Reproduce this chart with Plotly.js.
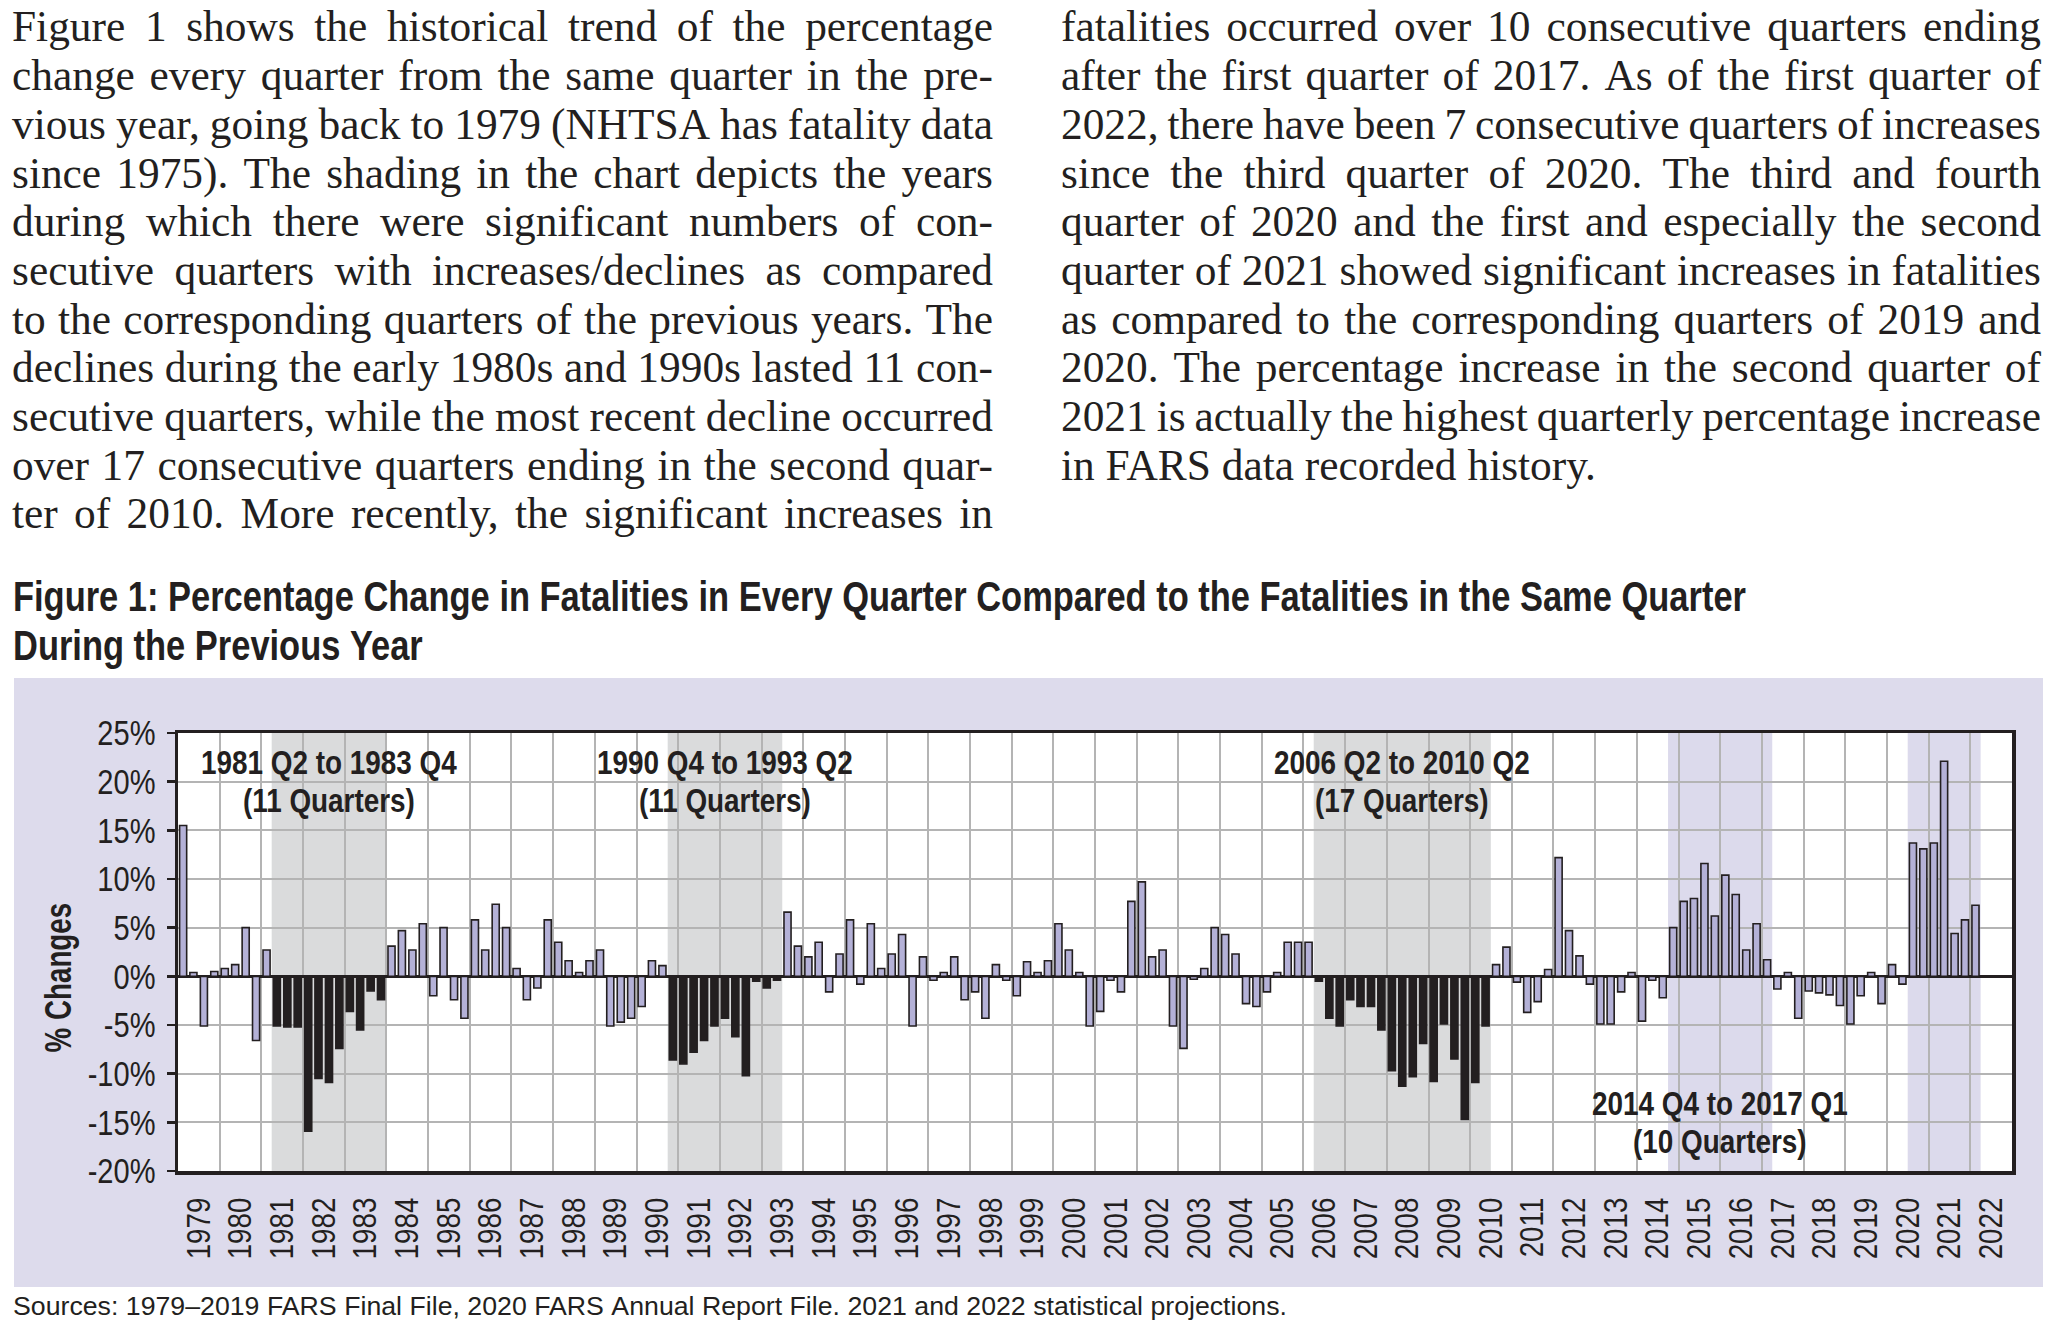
<!DOCTYPE html>
<html><head><meta charset="utf-8">
<script src="https://cdn.plot.ly/plotly-3.0.1.min.js"></script>
<style>
html,body{margin:0;padding:0;background:#fff;width:2048px;height:1327px;overflow:hidden;}
#txt{position:absolute;left:0;top:0;}
#chart{position:absolute;left:14px;top:678px;width:2029px;height:609px;}
</style></head><body>
<svg id="txt" width="2048" height="1327" xmlns="http://www.w3.org/2000/svg"></svg>
<div id="chart"></div>
<script>
// ---------------- DATA ----------------
const years = [1979,1980,1981,1982,1983,1984,1985,1986,1987,1988,1989,1990,1991,1992,1993,1994,1995,1996,1997,1998,1999,2000,2001,2002,2003,2004,2005,2006,2007,2008,2009,2010,2011,2012,2013,2014,2015,2016,2017,2018,2019,2020,2021,2022];
const quarterLabels = ['Q1','Q2','Q3','Q4'];
// % change vs same quarter of previous year, 1979 Q1 .. 2022 Q1
const pctChange = [
  15.5, 0.4, -5.1, 0.5,     // 1979
  0.8, 1.2, 5.0, -6.6,      // 1980
  2.7, -5.1, -5.2, -5.2,    // 1981
  -15.9, -10.5, -10.9, -7.4,// 1982
  -3.6, -5.5, -1.5, -2.4,   // 1983
  3.1, 4.7, 2.7, 5.4,       // 1984
  -2.0, 5.0, -2.4, -4.3,    // 1985
  5.8, 2.7, 7.4, 5.0,       // 1986
  0.8, -2.4, -1.2, 5.8,     // 1987
  3.5, 1.6, 0.4, 1.6,       // 1988
  2.7, -5.1, -4.7, -4.3,    // 1989
  -3.1, 1.6, 1.1, -8.6,     // 1990
  -9.0, -7.8, -6.6, -5.1,   // 1991
  -4.3, -6.2, -10.2, -0.5,  // 1992
  -1.2, -0.4, 6.6, 3.1,     // 1993
  2.0, 3.5, -1.6, 2.3,      // 1994
  5.8, -0.8, 5.4, 0.8,      // 1995
  2.3, 4.3, -5.1, 2.0,      // 1996
  -0.4, 0.4, 2.0, -2.4,     // 1997
  -1.6, -4.3, 1.2, -0.4,    // 1998
  -2.0, 1.5, 0.4, 1.6,      // 1999
  5.4, 2.7, 0.4, -5.1,      // 2000
  -3.6, -0.4, -1.6, 7.7,    // 2001
  9.7, 2.0, 2.7, -5.1,      // 2002
  -7.4, -0.3, 0.8, 5.0,     // 2003
  4.3, 2.3, -2.8, -3.1,     // 2004
  -1.6, 0.4, 3.5, 3.5,      // 2005
  3.5, -0.5, -4.3, -5.1,    // 2006
  -2.4, -3.1, -3.1, -5.5,   // 2007
  -9.7, -11.3, -10.3, -6.9, // 2008
  -10.8, -4.9, -8.5, -14.7, // 2009
  -10.9, -5.1, 1.2, 3.0,    // 2010
  -0.6, -3.7, -2.6, 0.7,    // 2011
  12.2, 4.7, 2.1, -0.8,     // 2012
  -4.9, -4.9, -1.6, 0.4,    // 2013
  -4.6, -0.4, -2.2, 5.0,    // 2014
  7.7, 8.0, 11.6, 6.2,      // 2015
  10.4, 8.4, 2.7, 5.4,      // 2016
  1.7, -1.3, 0.4, -4.3,     // 2017
  -1.5, -1.7, -1.9, -3.0,   // 2018
  -4.9, -2.0, 0.4, -2.8,    // 2019
  1.2, -0.8, 13.7, 13.1,    // 2020
  13.7, 22.1, 4.4, 5.8,     // 2021
  7.3                       // 2022
];
// periods of consecutive declines (first quarter start, last quarter end)
const declineStart = ['1981-04-01','1990-10-01','2006-04-01'];
const declineEnd   = ['1984-01-01','1993-07-01','2010-07-01'];
const declineTitle = ['1981 Q2 to 1983 Q4','1990 Q4 to 1993 Q2','2006 Q2 to 2010 Q2'];
const declineCount = ['(11 Quarters)','(11 Quarters)','(17 Quarters)'];
// periods of consecutive increases
const increaseStart = ['2014-10-01','2020-07-01'];
const increaseEnd   = ['2017-04-01','2022-04-01'];
const increaseTitle = ['2014 Q4 to 2017 Q1',''];
const increaseCount = ['(10 Quarters)',''];
const yTickVals = [-20,-15,-10,-5,0,5,10,15,20,25];
const yTickText = ['-20%','-15%','-10%','-5%','0%','5%','10%','15%','20%','25%'];

const leftText = [
 'Figure 1 shows the historical trend of the percentage',
 'change every quarter from the same quarter in the pre-',
 'vious year, going back to 1979 (NHTSA has fatality data',
 'since 1975). The shading in the chart depicts the years',
 'during which there were significant numbers of con-',
 'secutive quarters with increases/declines as compared',
 'to the corresponding quarters of the previous years. The',
 'declines during the early 1980s and 1990s lasted 11 con-',
 'secutive quarters, while the most recent decline occurred',
 'over 17 consecutive quarters ending in the second quar-',
 'ter of 2010. More recently, the significant increases in'
];
const rightText = [
 'fatalities occurred over 10 consecutive quarters ending',
 'after the first quarter of 2017. As of the first quarter of',
 '2022, there have been 7 consecutive quarters of increases',
 'since the third quarter of 2020. The third and fourth',
 'quarter of 2020 and the first and especially the second',
 'quarter of 2021 showed significant increases in fatalities',
 'as compared to the corresponding quarters of 2019 and',
 '2020. The percentage increase in the second quarter of',
 '2021 is actually the highest quarterly percentage increase',
 'in FARS data recorded history.'
];
const figTitle = ['Figure 1: Percentage Change in Fatalities in Every Quarter Compared to the Fatalities in the Same Quarter','During the Previous Year'];
const sourceText = 'Sources: 1979\u20132019 FARS Final File, 2020 FARS Annual Report File. 2021 and 2022 statistical projections.';

// ---------------- TEXT (SVG) ----------------
const INK = '#231f20';
const NS = 'http://www.w3.org/2000/svg';
const svg = document.getElementById('txt');
const cv = document.createElement('canvas').getContext('2d');
function mw(t, f){ cv.font = f; return cv.measureText(t).width; }
function mk(tag, attrs){ const e=document.createElementNS(NS,tag); for(const k in attrs) e.setAttribute(k,attrs[k]); return e; }
function drawLines(lines, opt){
  const fam = opt.family, size = opt.size, weight = opt.weight||'normal';
  const fcss = weight+' '+size+'px '+fam;
  const s = opt.scale;
  const g = mk('g',{transform:'translate('+opt.x+' 0) scale('+s+' 1)','font-family':fam,'font-size':size,'font-weight':weight,fill:INK});
  svg.appendChild(g);
  const inner = opt.width / s;
  const sp = mw(' ', fcss);
  lines.forEach((line,i)=>{
    const words = line.split(' ');
    const ws = words.map(w=>mw(w,fcss));
    const sum = ws.reduce((a,b)=>a+b,0);
    const justify = opt.justify && !(opt.lastLeft && i===lines.length-1) && words.length>1;
    const gap = justify ? (inner-sum)/(words.length-1) : sp;
    let x = 0;
    const y = opt.baseline + i*opt.pitch;
    words.forEach((w,j)=>{ const t=mk('text',{x:x.toFixed(2),y:y}); t.textContent=w; g.appendChild(t); x += ws[j]+gap; });
  });
}
const SERIF = "'Liberation Serif', 'Times New Roman', serif";
const SANS = "'Liberation Sans', Arial, Helvetica, sans-serif";
const pSize = 45;
const pScale = 535 / mw('in FARS data recorded history.', 'normal '+pSize+'px '+SERIF);
drawLines(leftText,{family:SERIF,size:pSize,scale:pScale,x:12,width:981,baseline:41.5,pitch:48.7,justify:true,lastLeft:false});
drawLines(rightText,{family:SERIF,size:pSize,scale:pScale,x:1061,width:980,baseline:41.5,pitch:48.7,justify:true,lastLeft:true});
const tSize = 42;
const tScale = 1733 / mw(figTitle[0], 'bold '+tSize+'px '+SANS);
drawLines(figTitle,{family:SANS,size:tSize,weight:'bold',scale:tScale,x:13,width:1733,baseline:611.5,pitch:48.5,justify:false});
const sSize = 25;
const sScale = 1274 / mw(sourceText, 'normal '+sSize+'px '+SANS);
drawLines([sourceText],{family:SANS,size:sSize,scale:sScale,x:13,width:1274,baseline:1315,pitch:0,justify:false});

// ---------------- CHART ----------------
const quarterMid = ['-02-15','-05-16','-08-16','-11-15'];
const xDates = [], barColors = [], hover = [];
pctChange.forEach((v,i)=>{
  const yr = years[Math.floor(i/4)], q = i%4;
  const d = yr + quarterMid[q];
  xDates.push(d);
  hover.push(yr+' '+quarterLabels[q]);
  const inDecline = declineStart.some((s,k)=> d >= s && d < declineEnd[k]);
  barColors.push(inDecline ? '#231f20' : '#b4b1d7');
});
const DAY = 86400000;
const trace = {
  type:'bar', x:xDates, y:pctChange, text:hover, hoverinfo:'text+y', textposition:'none',
  width: xDates.map(()=>62*DAY),
  marker:{color:barColors, line:{color:'#231f20', width:1.6}}
};
function midDate(a,b){ return new Date((Date.parse(a)+Date.parse(b))/2).toISOString().slice(0,10); }
const shapes = [], annotations = [];
const annFont = {family:SANS,size:34,weight:'bold',color:INK};
declineStart.forEach((s,k)=>{
  shapes.push({type:'rect',xref:'x',yref:'paper',x0:s,x1:declineEnd[k],y0:0,y1:1,fillcolor:'#dadbdc',line:{width:0},layer:'below'});
  const m = midDate(s,declineEnd[k]);
  annotations.push({x:m,y:22.0,xref:'x',yref:'y',text:declineTitle[k],showarrow:false,borderpad:0,font:annFont});
  annotations.push({x:m,y:18.1,xref:'x',yref:'y',text:declineCount[k],showarrow:false,borderpad:0,font:annFont});
});
increaseStart.forEach((s,k)=>{
  shapes.push({type:'rect',xref:'x',yref:'paper',x0:s,x1:increaseEnd[k],y0:0,y1:1,fillcolor:'#dcdaec',line:{width:0},layer:'below'});
  if (increaseTitle[k]) {
    const m = midDate(s,increaseEnd[k]);
    annotations.push({x:m,y:-13.05,xref:'x',yref:'y',text:increaseTitle[k],showarrow:false,borderpad:0,font:annFont});
    annotations.push({x:m,y:-16.96,xref:'x',yref:'y',text:increaseCount[k],showarrow:false,borderpad:0,font:annFont});
  }
});
annotations.push({xref:'paper',yref:'paper',x:-0.0654,y:0.44,text:'% Changes',textangle:-90,showarrow:false,xanchor:'center',yanchor:'middle',font:{family:SANS,size:37,weight:'bold',color:INK}});

const layout = {
  width:2029, height:609, autosize:false,
  margin:{l:164,r:31,t:55,b:116,pad:0},
  paper_bgcolor:'#dddbec', plot_bgcolor:'#ffffff',
  showlegend:false, bargap:0,
  font:{family:SANS,color:INK},
  xaxis:{
    type:'date', range:['1979-01-01','2023-01-01'], dtick:'M12', tick0:'1979-01-01',
    tickformat:'%Y', ticklabelmode:'period', tickangle:-90, ticks:'', ticklabelstandoff:10,
    showgrid:true, gridcolor:'#b4b4b4', gridwidth:2,
    showline:true, linecolor:'#231f20', linewidth:3.5, mirror:true,
    tickfont:{family:SANS,size:33,color:INK}, fixedrange:true
  },
  yaxis:{
    range:[-20,25], tickvals:yTickVals, ticktext:yTickText,
    ticks:'outside', ticklen:8, tickwidth:2.5, tickcolor:'#231f20',
    showgrid:true, gridcolor:'#b4b4b4', gridwidth:2,
    zeroline:true, zerolinecolor:'#231f20', zerolinewidth:2.5,
    showline:true, linecolor:'#231f20', linewidth:3.5, mirror:true,
    tickfont:{family:SANS,size:35,color:INK}, ticklabelstandoff:4, fixedrange:true
  },
  shapes:shapes, annotations:annotations
};
// horizontally condense text the way the original condensed typeface looks
function squeeze(nodes, k){
  nodes.forEach(t=>{
    const L = t.getComputedTextLength();
    if (L > 0) { t.setAttribute('textLength', (L*k).toFixed(2)); t.setAttribute('lengthAdjust','spacingAndGlyphs'); }
  });
}
Plotly.newPlot('chart',[trace],layout,{displayModeBar:false,staticPlot:true}).then(gd=>{
  squeeze(gd.querySelectorAll('.xtick text'), 0.84);
  squeeze(gd.querySelectorAll('.ytick text'), 0.83);
  gd.querySelectorAll('.annotation-text').forEach(t=>{
    squeeze([t], t.textContent.indexOf('Changes')>=0 ? 0.75 : 0.82);
  });
});
</script></body></html>
